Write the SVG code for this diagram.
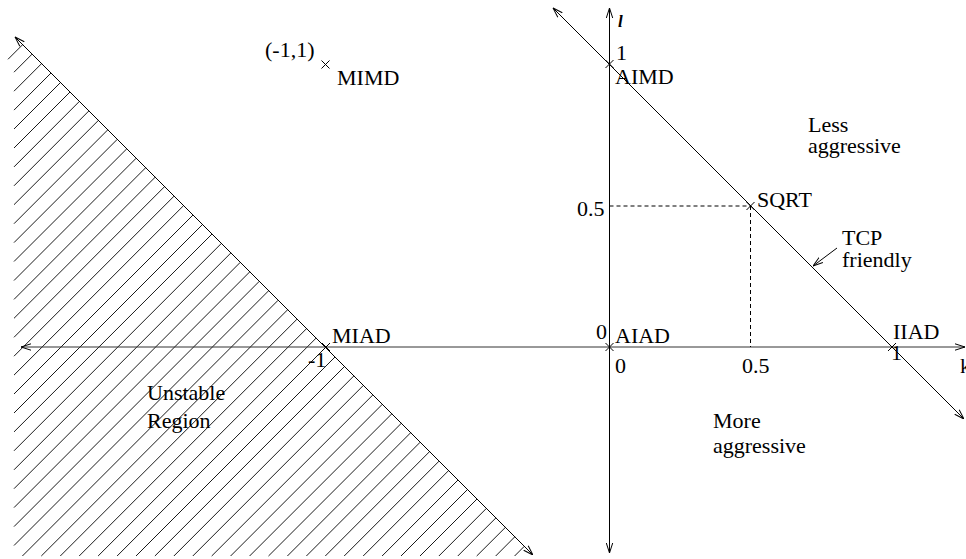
<svg xmlns="http://www.w3.org/2000/svg" width="966" height="559" viewBox="0 0 966 559">
<style>
text{font-family:"Liberation Serif","Times New Roman",serif;font-size:22px;fill:#000}
.ln{stroke:#000;stroke-width:1;fill:none}
.hx{stroke:#000;stroke-width:0.9;fill:none}
.ax{stroke:#333;stroke-width:1;fill:none}
.dash{stroke:#000;stroke-width:1;fill:none;stroke-dasharray:4 3}
.cross{stroke:#000;stroke-width:1}
</style>
<defs>
<marker id="arr" viewBox="0 0 10 8" refX="10" refY="4" markerWidth="10" markerHeight="8" markerUnits="userSpaceOnUse" orient="auto-start-reverse">
<path d="M0,0.8 L10,4 L0,7.2" fill="none" stroke="#000" stroke-width="1"/>
</marker>
<g id="x"><line class="cross" x1="-4" y1="-4" x2="4" y2="4"/><line class="cross" x1="-4" y1="4" x2="4" y2="-4"/></g>
</defs>
<rect width="966" height="559" fill="#fff"/>
<g id="hatch" class="hx">
<path d="M22.65,44.65L8,59.3M32.1,54.1L14,72.2M41.6,63.6L14,91.2M51,73L14,110.1M60.5,82.5L14,129M70,92L14,148M79.4,101.4L14,166.9M88.9,110.9L14,185.8M98.4,120.4L14,204.7M107.8,129.8L14,223.7M117.3,139.3L14,242.6M126.8,148.8L14,261.5M136.2,158.2L14,280.5M145.7,167.7L14,299.4M155.2,177.2L14,318.3M164.6,186.6L14,337.3M174.1,196.1L14,356.2M183.6,205.6L14,375.1M193,215L14,394M202.5,224.5L14,413M212,234L14,431.9M221.4,243.4L14,450.8M230.9,252.9L14,469.8M240.3,262.3L14,488.7M249.8,271.8L14,507.6M259.3,281.3L14,526.6M268.7,290.7L14,545.5M278.2,300.2L22.4,556M287.7,309.7L41.3,556M297.1,319.1L60.3,556M306.6,328.6L79.2,556M316.1,338.1L98.1,556M325.5,347.5L117.1,556M335,357L136,556M344.5,366.5L154.9,556M353.9,375.9L173.9,556M363.4,385.4L192.8,556M372.9,394.9L211.7,556M382.3,404.3L230.6,556M391.8,413.8L249.6,556M401.3,423.3L268.5,556M410.7,432.7L287.4,556M420.2,442.2L306.4,556M429.6,451.6L325.3,556M439.1,461.1L344.2,556M448.6,470.6L363.2,556M458,480L382.1,556M467.5,489.5L401,556M477,499L420,556M486.4,508.4L438.9,556M495.9,517.9L457.8,556M505.4,527.4L476.7,556M514.8,536.8L495.7,556M524.3,546.3L514.6,556"/>
</g>
<g id="connectors">
<line id="k-axis" class="ax" x1="21" y1="347" x2="965" y2="347" marker-start="url(#arr)" marker-end="url(#arr)"/>
<line id="l-axis" class="ln" x1="609.5" y1="553" x2="609.5" y2="8" marker-start="url(#arr)" marker-end="url(#arr)"/>
<line id="unstable-boundary" class="ln" x1="15" y1="37" x2="533" y2="555" marker-start="url(#arr)" marker-end="url(#arr)"/>
<line id="tcp-friendly-line" class="ln" x1="553" y1="8" x2="964" y2="419" marker-start="url(#arr)" marker-end="url(#arr)"/>
<line class="dash" x1="609.5" y1="206" x2="750.5" y2="206"/>
<line class="dash" x1="750.5" y1="206" x2="750.5" y2="347"/>
<line id="tcp-pointer" class="ln" x1="837" y1="248" x2="813" y2="266" marker-end="url(#arr)"/>
</g>
<g id="MIMD"><use href="#x" x="325.5" y="64.5"/><text x="265" y="57">(-1,1)</text><text x="337" y="85">MIMD</text></g>
<g id="AIMD"><use href="#x" x="609.5" y="64"/><text x="616" y="59.5">1</text><text x="615" y="84">AIMD</text></g>
<g id="SQRT"><use href="#x" x="750.5" y="206"/><text x="757" y="206.5">SQRT</text><text x="577" y="216">0.5</text><text x="742" y="372.5">0.5</text></g>
<g id="AIAD"><use href="#x" x="609.5" y="347"/><text x="596" y="339">0</text><text x="615" y="343.3">AIAD</text><text x="615" y="372.5">0</text></g>
<g id="IIAD"><use href="#x" x="892" y="347"/><text x="893" y="339.3">IIAD</text><text x="891" y="360">1</text></g>
<g id="MIAD"><use href="#x" x="326" y="347"/><text x="332" y="343.3">MIAD</text><text x="308" y="367">-1</text></g>
<g id="labels">
<text x="618" y="26.5" style="font-style:italic;font-weight:bold;font-size:17px">l</text>
<text x="960" y="373">k</text>
<text x="808" y="131.7">Less</text>
<text x="808" y="153">aggressive</text>
<text x="842" y="245">TCP</text>
<text x="842" y="267">friendly</text>
<text x="147" y="400">Unstable</text>
<text x="147" y="428.3">Region</text>
<text x="713" y="428.3">More</text>
<text x="713" y="453">aggressive</text>
</g>
</svg>
